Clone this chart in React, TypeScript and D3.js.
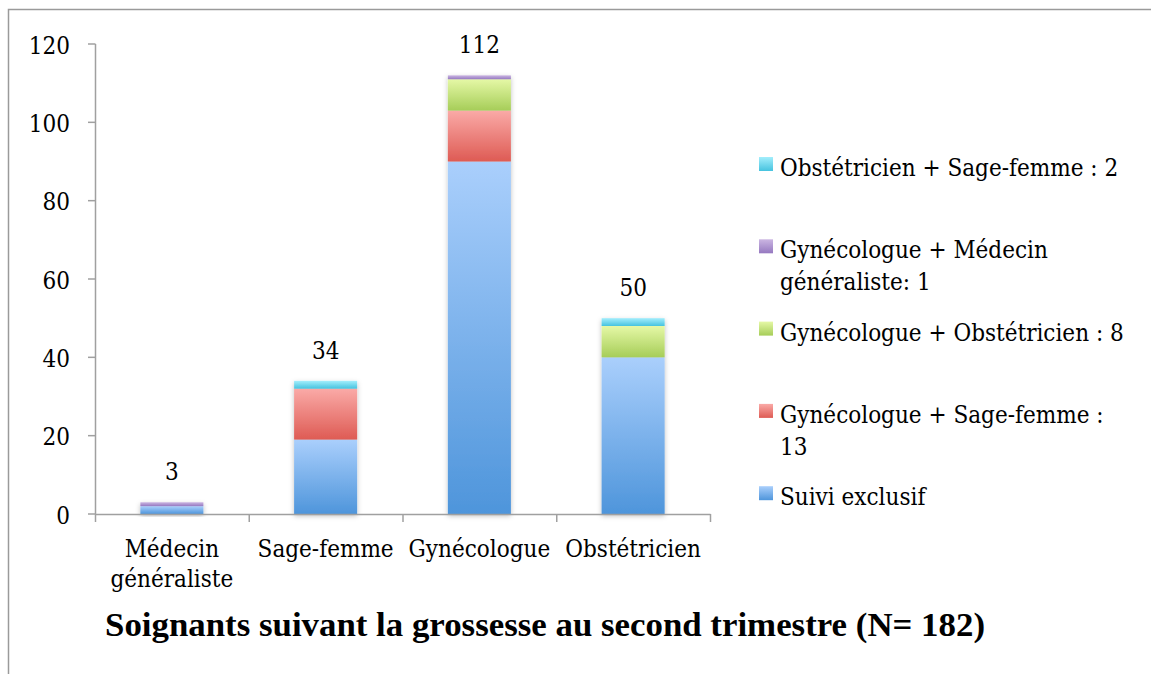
import React from "react";
import * as d3 from "d3";

const categories = ["Médecin\ngénéraliste", "Sage-femme", "Gynécologue", "Obstétricien"];
const seriesNames = [
  "Suivi exclusif",
  "Gynécologue + Sage-femme :\n13",
  "Gynécologue + Obstétricien : 8",
  "Gynécologue + Médecin\ngénéraliste: 1",
  "Obstétricien + Sage-femme : 2",
];
const suiviExclusif = [2, 19, 90, 40];
const gynSage = [0, 13, 13, 0];
const gynObs = [0, 0, 8, 8];
const gynMed = [1, 0, 1, 0];
const obsSage = [0, 2, 0, 2];
const totals = [3, 34, 112, 50];
const yTicks = [0, 20, 40, 60, 80, 100, 120];
const colorsTop = ["#aacffc", "#faaaa7", "#e5f8a6", "#cbb6e2", "#a3eefc"];
const colorsBottom = ["#4e95db", "#de5b54", "#a6cd58", "#9578c0", "#46c3df"];

const W = 1151;
const H = 674;
const FONT = "'DejaVu Serif Condensed', 'DejaVu Serif', serif";
const FS = 24;

export default function App() {
  const seriesValues = [suiviExclusif, gynSage, gynObs, gynMed, obsSage];
  const rows = categories.map((c, i) => {
    const r: any = { cat: c };
    seriesNames.forEach((s, j) => (r[s] = seriesValues[j][i]));
    return r;
  });
  const stacked = d3.stack<any>().keys(seriesNames)(rows);

  const x = d3.scaleBand<string>().domain(categories).range([95, 710]).padding(0);
  const y = d3.scaleLinear().domain([0, 120]).range([514, 44]);
  const barW = x.bandwidth() * 0.41;
  const axisColor = "#a0a0a0";
  const legendX = 759;
  const legendTop = 176;
  const legendStep = 82.3;
  const textStyle = { fontStretch: "condensed" as const };

  return (
    <svg width={W} height={H} style={{ position: "absolute", left: 0, top: 0, display: "block" }}>
      <defs>
        {seriesNames.map((s, j) => (
          <linearGradient key={j} id={`g${j}`} x1="0" y1="0" x2="0" y2="1">
            <stop offset="0%" stopColor={colorsTop[j]} />
            <stop offset="100%" stopColor={colorsBottom[j]} />
          </linearGradient>
        ))}
        <filter id="shadow" x="-20%" y="-20%" width="140%" height="140%">
          <feDropShadow dx="0" dy="2" stdDeviation="2.5" floodColor="#000" floodOpacity="0.25" />
        </filter>
      </defs>
      <rect x={0} y={0} width={W} height={H} fill="#fff" />
      <rect x={8.5} y={9.5} width={W + 20} height={H + 20} fill="none" stroke="#9a9a9a" strokeWidth={1.5} />

      {/* y axis */}
      <line x1={95.5} x2={95.5} y1={y(120)} y2={y(0)} stroke={axisColor} strokeWidth={1.5} />
      {yTicks.map((t) => (
        <g key={t}>
          <line x1={88} x2={95.5} y1={y(t)} y2={y(t)} stroke={axisColor} strokeWidth={1.5} />
          <text x={70} y={y(t)} dy="0.4em" textAnchor="end" fontFamily={FONT} fontSize={FS} style={textStyle} fill="#000">
            {t}
          </text>
        </g>
      ))}

      {/* bars */}
      {categories.map((c, i) => {
        const cx = (x(c) as number) + x.bandwidth() / 2;
        return (
          <g key={c} filter="url(#shadow)">
            {stacked.map((layer, j) => {
              const d = layer[i];
              const h = y(d[0]) - y(d[1]);
              if (h <= 0) return null;
              return <rect key={j} x={cx - barW / 2} y={y(d[1])} width={barW} height={h} fill={`url(#g${j})`} />;
            })}
          </g>
        );
      })}

      {/* x axis */}
      <line x1={95} x2={710.5} y1={y(0) + 0.5} y2={y(0) + 0.5} stroke={axisColor} strokeWidth={1.5} />
      {[...categories.map((c) => x(c) as number), 710].map((t, i) => (
        <line key={i} x1={t + 0.5} x2={t + 0.5} y1={y(0)} y2={y(0) + 8} stroke={axisColor} strokeWidth={1.5} />
      ))}
      {categories.map((c) => {
        const cx = (x(c) as number) + x.bandwidth() / 2;
        return (
          <text key={c} x={cx} y={y(0) + 43} textAnchor="middle" fontFamily={FONT} fontSize={FS} style={textStyle} fill="#000">
            {c.split("\n").map((l, k) => (
              <tspan key={k} x={cx} dy={k === 0 ? 0 : 30}>
                {l}
              </tspan>
            ))}
          </text>
        );
      })}

      {/* totals */}
      {categories.map((c, i) => {
        const cx = (x(c) as number) + x.bandwidth() / 2;
        return (
          <text key={c} x={cx} y={y(totals[i]) - 22} textAnchor="middle" fontFamily={FONT} fontSize={FS} style={textStyle} fill="#000">
            {totals[i]}
          </text>
        );
      })}

      {/* legend */}
      {seriesNames
        .map((s, j) => ({ s, j }))
        .reverse()
        .map(({ s, j }, k) => {
          const by = legendTop + k * legendStep;
          return (
            <g key={s}>
              <rect x={legendX} y={by - 19} width={14} height={14} fill={`url(#g${j})`} />
              <text x={780} y={by} fontFamily={FONT} fontSize={FS} style={textStyle} fill="#000">
                {s.split("\n").map((l, m) => (
                  <tspan key={m} x={780} dy={m === 0 ? 0 : 32}>
                    {l}
                  </tspan>
                ))}
              </text>
            </g>
          );
        })}

      {/* title */}
      <text
        x={545}
        y={636}
        textAnchor="middle"
        fontFamily="'Liberation Serif', serif"
        fontWeight="bold"
        fontSize={33}
        textLength={880}
        lengthAdjust="spacingAndGlyphs"
        fill="#000"
      >
        Soignants suivant la grossesse au second trimestre (N= 182)
      </text>
    </svg>
  );
}
